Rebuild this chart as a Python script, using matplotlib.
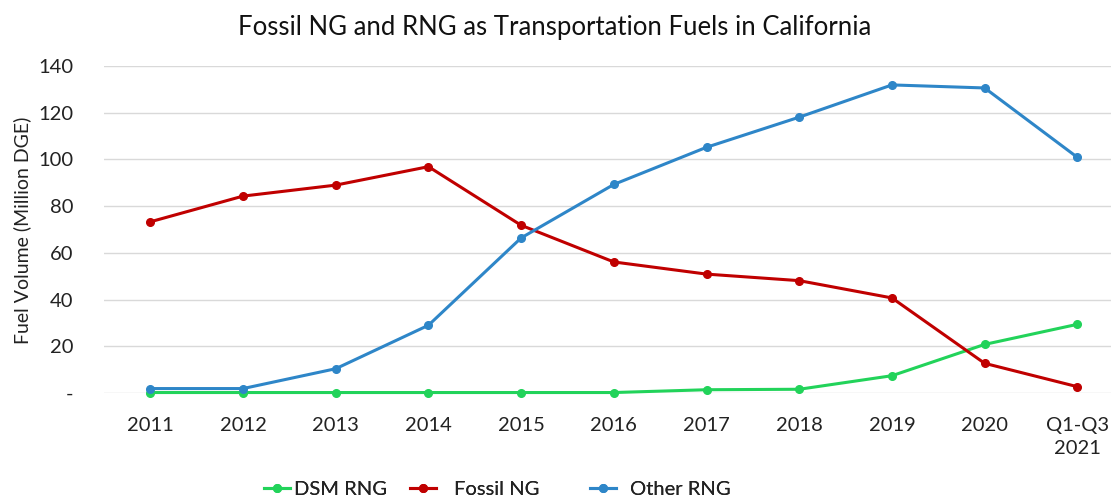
import matplotlib
matplotlib.use("Agg")
import matplotlib.pyplot as plt

categories = ["2011", "2012", "2013", "2014", "2015", "2016", "2017", "2018", "2019", "2020", "Q1-Q3\n2021"]
dsm_rng = [0.2, 0.2, 0.2, 0.2, 0.2, 0.2, 1.4, 1.6, 7.4, 20.8, 29.4]
fossil_ng = [73.3, 84.3, 89.0, 96.9, 71.8, 56.1, 50.9, 48.1, 40.7, 12.7, 2.7]
other_rng = [1.9, 1.9, 10.4, 29.0, 66.4, 89.3, 105.2, 118.1, 131.9, 130.6, 100.9]
yticks = [0, 20, 40, 60, 80, 100, 120, 140]
ytick_labels = ["-", "20", "40", "60", "80", "100", "120", "140"]

plt.rcParams['font.family'] = ['Lato', 'DejaVu Sans']

fig = plt.figure(figsize=(11.11, 5.0), dpi=100)
ax = fig.add_axes([104/1111, 1-393/500, 1-104/1111, (393-66)/500])

green = "#22D35A"
red = "#C00000"
blue = "#2E86C8"

x = list(range(len(categories)))
l1, = ax.plot(x, dsm_rng, color=green, lw=2.2, marker='o', ms=5.5, clip_on=False, zorder=3, label="DSM RNG")
l2, = ax.plot(x, fossil_ng, color=red, lw=2.2, marker='o', ms=5.5, clip_on=False, zorder=4, label="Fossil NG")
l3, = ax.plot(x, other_rng, color=blue, lw=2.2, marker='o', ms=5.5, clip_on=False, zorder=5, label="Other RNG")

ax.set_xlim(-0.5, (1111-104)/92.7 - 0.5)
ax.set_ylim(0, 140)
ax.set_yticks(yticks)
ax.set_yticklabels(ytick_labels)
ax.set_xticks(x)
ax.set_xticklabels(categories, linespacing=1.45)
ax.yaxis.grid(True, color="#D9D9D9", lw=1.0)
ax.set_axisbelow(True)
for s in ax.spines.values():
    s.set_visible(False)
ax.tick_params(axis='both', length=0, labelsize=14.5, colors="#222222")
ax.tick_params(axis='x', pad=17)
ax.tick_params(axis='y', pad=22)

fig.text(22/1111, 1-230/500, "Fuel Volume (Million DGE)", rotation=90, ha='center', va='center', fontsize=14, color="#222222")

fig.text(555/1111, 1-28/500, "Fossil NG and RNG as Transportation Fuels in California", ha='center', va='center', fontsize=18.5, color="#111111")

def leg(handle, xpos, pad):
    lg = fig.legend(handles=[handle], loc='center left', bbox_to_anchor=(xpos/1111, 1-489/500),
                    frameon=False, fontsize=14.5, handlelength=1.3, handletextpad=pad, borderaxespad=0, borderpad=0)
    for t in lg.get_texts():
        t.set_color("#222222")
    return lg

fig.add_artist(leg(l1, 264, 0.2))
fig.add_artist(leg(l2, 410, 0.9))
fig.add_artist(leg(l3, 590, 0.7))

fig.savefig("out.png", dpi=100)
